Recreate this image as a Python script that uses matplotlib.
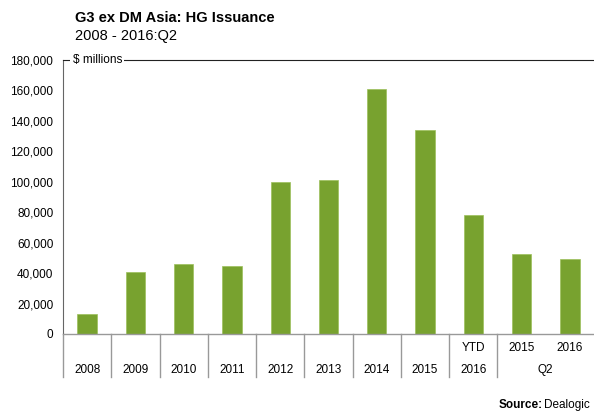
import matplotlib.pyplot as plt
import numpy as np

plt.rcParams['font.family'] = ['Liberation Sans', 'DejaVu Sans']

# data
cats_top = ['', '', '', '', '', '', '', '', 'YTD', '2015', '2016']
cats_bottom = ['2008', '2009', '2010', '2011', '2012', '2013', '2014', '2015', '2016']
values = [13000, 41000, 46000, 44500, 100000, 101000, 161000, 134000, 78000, 52500, 49000]
yticks = [0, 20000, 40000, 60000, 80000, 100000, 120000, 140000, 160000, 180000]

bar_color = '#78A22F'
axis_color = '#999999'

fig = plt.figure(figsize=(5.94, 4.15), dpi=100)
ax = fig.add_axes([63 / 594, 1 - 334 / 415, 1 - 63 / 594, 274 / 415])

x = np.arange(len(values))
ax.bar(x, values, width=0.4, color=bar_color, edgecolor='#9CC05A', linewidth=0.5)

ax.set_xlim(-0.5, len(values) - 0.5)
ax.set_ylim(0, 180000)
ax.set_yticks(yticks)
ax.set_yticklabels([f'{v:,}' for v in yticks], fontsize=8.5)
ax.tick_params(axis='y', length=0, pad=7)
ax.set_xticks([])

ax.spines['right'].set_visible(False)
ax.spines['left'].set_color('#666666')
ax.spines['left'].set_linewidth(0.8)
ax.spines['bottom'].set_color(axis_color)
ax.spines['bottom'].set_linewidth(1.0)
ax.spines['top'].set_color('#222222')
ax.spines['top'].set_linewidth(0.8)

# "$ millions" label sitting on the top line
ax.text(0.018, 1.0, '$ millions', transform=ax.transAxes, fontsize=8.5,
        ha='left', va='center',
        bbox=dict(facecolor='white', edgecolor='none', pad=1.5))

# category separators below the axis
trans = ax.get_xaxis_transform()
for sep in np.arange(-0.5, 9.5, 1.0):
    ax.plot([sep, sep], [0, -0.158], transform=trans, color=axis_color,
            linewidth=1.0, clip_on=False)

for i, lab in enumerate(cats_top):
    if lab:
        ax.text(x[i], -0.052, lab, transform=trans, ha='center', va='center', fontsize=8.5)
for i, lab in enumerate(cats_bottom):
    ax.text(x[i], -0.132, lab, transform=trans, ha='center', va='center', fontsize=8.5)
ax.text((x[9] + x[10]) / 2, -0.132, 'Q2', transform=trans, ha='center', va='center', fontsize=8.5)

fig.text(75 / 594, 1 - 18 / 415, 'G3 ex DM Asia: HG Issuance', fontsize=10.5,
         fontweight='bold', ha='left', va='center')
fig.text(75 / 594, 1 - 36 / 415, '2008 - 2016:Q2', fontsize=10.5, ha='left', va='center')

src = fig.text(590 / 594, 1 - 405 / 415, 'Dealogic', fontsize=8.5, ha='right', va='center')
fig.canvas.draw()
bb = src.get_window_extent()
fig.text(bb.x0 / fig.bbox.width - 0.002, 1 - 405 / 415, 'Source:', fontsize=8.5,
         fontweight='bold', ha='right', va='center')

fig.savefig('out.png', dpi=100)
